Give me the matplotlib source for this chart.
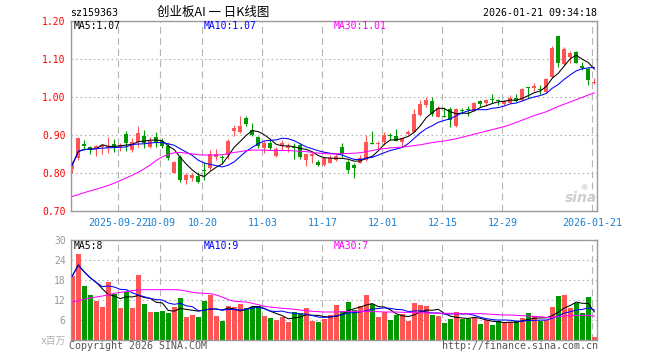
import matplotlib
matplotlib.use("Agg")
import matplotlib.pyplot as plt
import numpy as np
import pandas as pd

plt.rcParams['font.family'] = ['DejaVu Sans Mono', 'Noto Sans CJK SC']

# ---------------- data ----------------
opens = [0.812, 0.840, 0.876, 0.868, 0.866, 0.868, 0.866, 0.876, 0.868, 0.904,
         0.861, 0.883, 0.898, 0.868, 0.896, 0.886, 0.872, 0.802, 0.844, 0.782,
         0.787, 0.793, 0.808, 0.813, 0.844, 0.844, 0.848, 0.911, 0.908, 0.945,
         0.914, 0.895, 0.866, 0.881, 0.846, 0.872, 0.866, 0.869, 0.875, 0.835,
         0.846, 0.831, 0.822, 0.828, 0.835, 0.870, 0.831, 0.822, 0.828, 0.835,
         0.878, 0.877, 0.883, 0.899, 0.898, 0.883, 0.904, 0.910, 0.954, 0.980,
         0.991, 0.949, 0.951, 0.968, 0.925, 0.967, 0.968, 0.965, 0.989, 0.986,
         0.994, 0.991, 0.982, 0.986, 0.997, 0.993, 1.026, 1.024, 1.022, 1.015,
         1.054, 1.161, 1.088, 1.107, 1.120, 1.082, 1.074, 1.037]
highs = [0.832, 0.895, 0.888, 0.872, 0.874, 0.878, 0.896, 0.890, 0.880, 0.912,
         0.892, 0.925, 0.914, 0.896, 0.909, 0.892, 0.879, 0.833, 0.848, 0.800,
         0.800, 0.804, 0.830, 0.861, 0.865, 0.848, 0.890, 0.928, 0.950, 0.950,
         0.932, 0.897, 0.884, 0.888, 0.870, 0.888, 0.881, 0.881, 0.881, 0.850,
         0.857, 0.835, 0.843, 0.848, 0.852, 0.879, 0.835, 0.826, 0.848, 0.900,
         0.912, 0.885, 0.910, 0.905, 0.916, 0.895, 0.914, 0.968, 0.992, 1.000,
         1.000, 0.977, 0.975, 0.975, 0.971, 0.971, 0.976, 0.988, 0.993, 0.995,
         1.009, 0.996, 0.994, 1.006, 1.010, 1.024, 1.028, 1.038, 1.033, 1.050,
         1.134, 1.161, 1.133, 1.121, 1.122, 1.094, 1.081, 1.050]
lows = [0.800, 0.836, 0.861, 0.850, 0.845, 0.852, 0.853, 0.857, 0.860, 0.858,
        0.857, 0.868, 0.866, 0.866, 0.870, 0.866, 0.835, 0.800, 0.776, 0.772,
        0.780, 0.775, 0.782, 0.808, 0.836, 0.826, 0.837, 0.898, 0.905, 0.924,
        0.897, 0.866, 0.853, 0.862, 0.843, 0.862, 0.856, 0.838, 0.838, 0.818,
        0.826, 0.818, 0.820, 0.826, 0.832, 0.844, 0.802, 0.787, 0.826, 0.833,
        0.876, 0.862, 0.875, 0.888, 0.885, 0.868, 0.902, 0.908, 0.952, 0.975,
        0.950, 0.948, 0.949, 0.922, 0.923, 0.955, 0.950, 0.963, 0.974, 0.976,
        0.985, 0.979, 0.980, 0.984, 0.987, 0.991, 0.998, 1.017, 1.009, 1.011,
        1.052, 1.080, 1.086, 1.091, 1.091, 1.072, 1.033, 1.035]
closes = [0.822, 0.893, 0.873, 0.865, 0.871, 0.874, 0.872, 0.871, 0.874, 0.881,
          0.883, 0.907, 0.879, 0.886, 0.883, 0.873, 0.839, 0.831, 0.782, 0.796,
          0.796, 0.778, 0.806, 0.850, 0.850, 0.839, 0.886, 0.920, 0.925, 0.930,
          0.901, 0.872, 0.879, 0.866, 0.863, 0.881, 0.872, 0.867, 0.844, 0.850,
          0.850, 0.822, 0.839, 0.839, 0.846, 0.851, 0.809, 0.815, 0.841, 0.883,
          0.876, 0.881, 0.901, 0.897, 0.886, 0.892, 0.910, 0.956, 0.982, 0.993,
          0.956, 0.971, 0.949, 0.940, 0.968, 0.965, 0.966, 0.984, 0.982, 0.993,
          0.993, 0.989, 0.991, 0.997, 0.989, 1.021, 1.024, 1.030, 1.020, 1.047,
          1.131, 1.089, 1.126, 1.116, 1.091, 1.078, 1.046, 1.040]
volumes = [19.2, 25.8, 16.2, 13.4, 11.7, 9.8, 17.3, 13.8, 9.5, 14.4,
           9.6, 19.4, 10.8, 8.3, 8.4, 8.7, 8.1, 9.8, 12.5, 6.8,
           7.4, 6.8, 11.7, 13.5, 7.2, 5.7, 10.1, 9.8, 10.8, 9.5,
           10.0, 10.1, 7.1, 6.5, 6.0, 6.8, 5.4, 8.3, 8.0, 9.5,
           5.8, 5.4, 6.3, 7.6, 10.4, 8.6, 11.3, 9.1, 10.1, 13.4,
           10.7, 6.8, 8.5, 5.9, 7.4, 7.7, 5.7, 11.0, 10.4, 10.1,
           7.4, 7.1, 5.0, 6.2, 8.3, 6.4, 6.4, 6.7, 4.7, 5.9,
           4.4, 5.8, 5.3, 5.3, 5.8, 6.5, 8.0, 7.1, 5.6, 6.0,
           9.8, 13.1, 13.4, 9.5, 11.1, 8.0, 12.8, 0.8]
price_ma30 = [0.739, 0.744, 0.749, 0.754, 0.758, 0.763, 0.768, 0.774, 0.781, 0.788,
              0.795, 0.803, 0.812, 0.822, 0.834, 0.843, 0.850, 0.854, 0.855, 0.853,
              0.851, 0.849, 0.848, 0.848, 0.848, 0.849, 0.852, 0.855, 0.857, 0.860,
              0.861, 0.861, 0.861, 0.860, 0.860, 0.860, 0.860, 0.859, 0.858, 0.857,
              0.855, 0.853, 0.852, 0.851, 0.851, 0.852, 0.852, 0.853, 0.854, 0.857,
              0.860, 0.863, 0.865, 0.867, 0.868, 0.869, 0.871, 0.873, 0.875, 0.878,
              0.881, 0.883, 0.885, 0.888, 0.891, 0.895, 0.899, 0.903, 0.907, 0.911,
              0.915, 0.919, 0.923, 0.928, 0.934, 0.940, 0.946, 0.952, 0.957, 0.962,
              0.969, 0.976, 0.982, 0.988, 0.994, 1.000, 1.006, 1.012]
volume_ma30 = [11.4, 11.8, 12.2, 12.6, 12.9, 13.2, 13.5, 14.0, 14.3, 14.5,
               14.8, 15.0, 15.1, 15.1, 15.1, 15.1, 15.1, 15.1, 15.0, 14.7,
               14.3, 14.1, 14.0, 13.9, 13.5, 12.9, 12.1, 11.6, 11.5, 11.4,
               11.0, 10.6, 10.1, 9.9, 9.7, 9.5, 9.4, 9.2, 9.0, 8.8,
               8.6, 8.5, 8.4, 8.4, 8.4, 8.5, 8.6, 8.6, 8.6, 8.6,
               8.5, 8.5, 8.4, 8.4, 8.4, 8.3, 8.3, 8.2, 8.2, 8.1,
               8.1, 8.0, 8.0, 8.0, 8.0, 7.9, 7.9, 7.9, 7.9, 7.8,
               7.7, 7.6, 7.5, 7.5, 7.4, 7.3, 7.2, 7.1, 7.0, 6.8,
               6.8, 7.0, 7.2, 7.3, 7.4, 7.4, 7.3, 7.2]
tick_index = [8, 15, 22, 32, 42, 52, 62, 72, 87]
tick_labels = ['2025-09-22', '10-09', '10-20', '11-03', '11-17',
               '12-01', '12-15', '12-29', '2026-01-21']
price_ticks = [0.70, 0.80, 0.90, 1.00, 1.10, 1.20]
volume_ticks = [6, 12, 18, 24, 30]
price_ma_labels = ['MA5:1.07', 'MA10:1.07', 'MA30:1.01']
volume_ma_labels = ['MA5:8', 'MA10:9', 'MA30:7']
code_text = 'sz159363'
title_text = '创业板AI 一 日K线图'
time_text = '2026-01-21 09:34:18'

# ---------------- styling ----------------
W, H = 660, 360
RED = '#ff5555'
GREEN = '#009900'
FRAME = '#9a9a9a'
GRID = '#b4b4b4'
MA_COLORS = ['#000000', '#0000ff', '#ff00ff']
DATE_COLOR = '#1a80d4'

fig = plt.figure(figsize=(W / 100, H / 100), dpi=100)
fig.patch.set_facecolor('white')

def fx(x):
    return x / W

def fy(y):
    return 1 - y / H

L, R = 70.5, 597.0
ax = fig.add_axes([fx(L), fy(211.3), (R - L) / W, (211.3 - 21.3) / H])
axv = fig.add_axes([fx(L), fy(340.0), (R - L) / W, 100.0 / H])

n = len(closes)
x = np.arange(n)
o = np.array(opens); c = np.array(closes)
hi = np.array(highs); lo = np.array(lows)
vol = np.array(volumes)
up = c >= o
cols = np.where(up, RED, GREEN)

xmin, xmax = -0.3, 87.45
grid_x = np.array(tick_index) - 0.33

for a in (ax, axv):
    a.set_xlim(xmin, xmax)
    for s in a.spines.values():
        s.set_color(FRAME)
        s.set_linewidth(1.0)
    a.tick_params(length=0)
    for gx in grid_x:
        a.axvline(gx, color=GRID, lw=0.8, linestyle=(0, (6, 4)), zorder=0)

# ---- price panel ----
ax.set_ylim(0.70, 1.20)
for t in price_ticks[1:-1]:
    ax.axhline(t, color=GRID, lw=0.8, linestyle=(0, (1.5, 2.5)), zorder=0)
ax.vlines(x, lo, hi, colors=cols, lw=0.8, zorder=2)
body = np.maximum(np.abs(c - o), 0.0026)
ax.bar(x, body, bottom=np.minimum(o, c), width=0.68, color=cols, linewidth=0, zorder=2)

cs = pd.Series(closes)
ma5 = cs.rolling(5, min_periods=1).mean()
ma10 = cs.rolling(10, min_periods=1).mean()
for series, col in zip([ma5, ma10, price_ma30], MA_COLORS):
    ax.plot(x, series, color=col, lw=0.75, zorder=3)

ax.set_yticks(price_ticks)
ax.set_yticklabels([f'{t:.2f}' for t in price_ticks], color='#ff0000', fontsize=7)
ax.tick_params(axis='y', pad=3.5)
ax.set_xticks(grid_x)
ax.set_xticklabels(tick_labels, color=DATE_COLOR, fontsize=7.2)
ax.tick_params(axis='x', pad=5)

# ---- volume panel ----
axv.set_ylim(0, 30)
for t in volume_ticks[:-1]:
    axv.axhline(t, color=GRID, lw=0.8, linestyle=(0, (1.5, 2.5)), zorder=0)
axv.bar(x, vol, width=0.82, color=cols, linewidth=0, zorder=2)
vs = pd.Series(volumes)
vma5 = vs.rolling(5, min_periods=1).mean()
vma10 = vs.rolling(10, min_periods=1).mean()
for series, col in zip([vma5, vma10, volume_ma30], MA_COLORS):
    axv.plot(x, series, color=col, lw=0.75, zorder=3)
axv.set_yticks(volume_ticks)
axv.set_yticklabels([str(t) for t in volume_ticks], color='#999999', fontsize=7)
axv.tick_params(axis='y', pad=3.5)
axv.set_xticks([])

# ---- texts ----
ma_x = [74, 204, 334]
for lab, col, xx in zip(price_ma_labels, MA_COLORS, ma_x):
    fig.text(fx(xx), fy(26), lab, color=col, fontsize=7, va='center', ha='left')
for lab, col, xx in zip(volume_ma_labels, MA_COLORS, ma_x):
    fig.text(fx(xx), fy(246), lab, color=col, fontsize=7, va='center', ha='left')

fig.text(fx(70), fy(13.3), code_text, color='#000000', fontsize=7.2, va='center', ha='left')
fig.text(fx(213), fy(12), title_text, color='#000000', fontsize=9,
         va='center', ha='center', family=['Noto Sans CJK SC', 'DejaVu Sans'])
fig.text(fx(597), fy(12.5), time_text, color='#000000', fontsize=7.2, va='center', ha='right')

fig.text(fx(69), fy(346), 'Copyright 2026 SINA.COM', color='#555555', fontsize=7.2,
         va='center', ha='left')
fig.text(fx(598), fy(346), 'http://finance.sina.com.cn', color='#555555', fontsize=7.2,
         va='center', ha='right')
fig.text(fx(66), fy(341), 'x百万', color='#b0b0b0', fontsize=7, va='center', ha='right',
         family=['DejaVu Sans', 'Noto Sans CJK SC'])

# watermark
fig.text(fx(581), fy(198), 'sina', color='#cfcfcf', fontsize=10, fontstyle='italic',
         fontweight='bold', va='center', ha='center', family=['DejaVu Sans'])
fig.text(fx(584), fy(186), '◉', color='#d8d8d8', fontsize=6, va='center', ha='center',
         family=['DejaVu Sans'])

fig.savefig('out.png', dpi=100, facecolor='white')
